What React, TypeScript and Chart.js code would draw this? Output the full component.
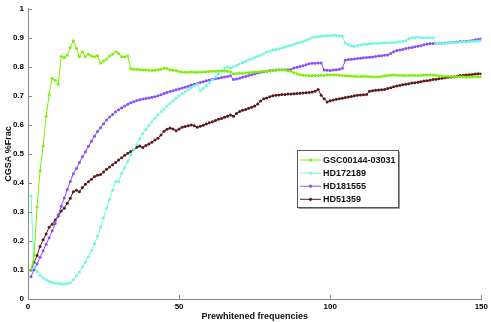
import React, { useEffect, useRef } from "react";
import { Chart, registerables } from "chart.js";

Chart.register(...registerables);

const seriesNames = ["GSC00144-03031", "HD172189", "HD181555", "HD51359"];
const seriesColors = ["#7cf000", "#6ff8dc", "#8850ff", "#5a1a1a"];

const xTicks = [0, 50, 100, 150];
const yTickLabels = ["0", "0.1", "0.2", "0.3", "0.4", "0.5", "0.6", "0.7", "0.8", "0.9", "1"];

const gsc00144 = [
  0.10, 0.15, 0.317, 0.441, 0.527, 0.629, 0.704, 0.761, 0.754, 0.740,
  0.836, 0.832, 0.840, 0.867, 0.890, 0.863, 0.835, 0.852, 0.835, 0.843,
  0.837, 0.835, 0.838, 0.813, 0.820, 0.826, 0.837, 0.843, 0.852, 0.846,
  0.835, 0.835, 0.838, 0.794, 0.792, 0.791, 0.791, 0.789, 0.790, 0.788,
  0.787, 0.788, 0.790, 0.792, 0.795, 0.794, 0.790, 0.788, 0.787, 0.784,
  0.782, 0.781, 0.781, 0.782, 0.781, 0.781, 0.781, 0.782, 0.783, 0.784,
  0.785, 0.785, 0.786, 0.786, 0.786, 0.785, 0.782, 0.776, 0.777, 0.778,
  0.777, 0.779, 0.780, 0.781, 0.782, 0.783, 0.784, 0.785, 0.785, 0.786,
  0.787, 0.788, 0.789, 0.790, 0.789, 0.786, 0.785, 0.780, 0.776, 0.773,
  0.771, 0.770, 0.769, 0.769, 0.770, 0.770, 0.771, 0.770, 0.772, 0.773,
  0.772, 0.773, 0.771, 0.770, 0.769, 0.769, 0.768, 0.768, 0.767, 0.767,
  0.768, 0.767, 0.766, 0.766, 0.765, 0.766, 0.767, 0.769, 0.770, 0.771,
  0.772, 0.771, 0.771, 0.770, 0.770, 0.770, 0.771, 0.770, 0.770, 0.771,
  0.772, 0.772, 0.772, 0.772, 0.771, 0.769, 0.768, 0.768, 0.768, 0.767,
  0.767, 0.766, 0.766, 0.766, 0.765, 0.765, 0.765, 0.766, 0.766, 0.766,
];

const hd172189 = [
  0.355, 0.110, 0.095, 0.082, 0.072, 0.066, 0.061, 0.058, 0.055, 0.053,
  0.052, 0.052, 0.053, 0.056, 0.066, 0.079, 0.093, 0.110, 0.127, 0.146,
  0.167, 0.190, 0.217, 0.248, 0.280, 0.313, 0.343, 0.375, 0.405, 0.405,
  0.433, 0.452, 0.474, 0.497, 0.515, 0.533, 0.552, 0.570, 0.585, 0.598,
  0.611, 0.623, 0.634, 0.645, 0.655, 0.665, 0.674, 0.683, 0.692, 0.700,
  0.707, 0.714, 0.721, 0.728, 0.734, 0.740, 0.718, 0.726, 0.735, 0.745,
  0.755, 0.765, 0.775, 0.786, 0.795, 0.800, 0.796, 0.800, 0.805, 0.810,
  0.815, 0.819, 0.824, 0.828, 0.832, 0.836, 0.840, 0.845, 0.851, 0.855,
  0.858, 0.860, 0.862, 0.865, 0.868, 0.871, 0.874, 0.878, 0.881, 0.884,
  0.887, 0.891, 0.896, 0.901, 0.903, 0.904, 0.905, 0.906, 0.907, 0.907,
  0.909, 0.908, 0.907, 0.906, 0.882, 0.876, 0.872, 0.870, 0.873, 0.876,
  0.878, 0.878, 0.879, 0.880, 0.881, 0.881, 0.882, 0.882, 0.883, 0.883,
  0.884, 0.885, 0.887, 0.888, 0.890, 0.897, 0.900, 0.901, 0.902, 0.901,
  0.900, 0.900, 0.900, 0.900, 0.882, 0.880, 0.880, 0.881, 0.882, 0.883,
  0.884, 0.884, 0.885, 0.886, 0.886, 0.887, 0.888, 0.888, 0.889, 0.890,
];

const hd181555 = [
  0.077, 0.101, 0.121, 0.144, 0.166, 0.189, 0.211, 0.235, 0.260, 0.290,
  0.320, 0.348, 0.377, 0.405, 0.432, 0.450, 0.470, 0.490, 0.507, 0.526,
  0.544, 0.561, 0.577, 0.590, 0.604, 0.617, 0.627, 0.636, 0.645, 0.652,
  0.659, 0.665, 0.671, 0.676, 0.680, 0.684, 0.687, 0.689, 0.691, 0.693,
  0.695, 0.697, 0.700, 0.704, 0.708, 0.712, 0.715, 0.718, 0.721, 0.724,
  0.727, 0.730, 0.733, 0.737, 0.740, 0.743, 0.746, 0.749, 0.752, 0.755,
  0.757, 0.759, 0.761, 0.763, 0.765, 0.767, 0.769, 0.756, 0.758, 0.761,
  0.764, 0.767, 0.770, 0.773, 0.776, 0.779, 0.781, 0.783, 0.785, 0.787,
  0.788, 0.789, 0.790, 0.790, 0.790, 0.790, 0.791, 0.796, 0.799, 0.801,
  0.804, 0.807, 0.811, 0.812, 0.812, 0.813, 0.813, 0.789, 0.788, 0.787,
  0.789, 0.790, 0.792, 0.795, 0.823, 0.825, 0.826, 0.827, 0.829, 0.830,
  0.831, 0.832, 0.833, 0.834, 0.836, 0.837, 0.838, 0.840, 0.841, 0.846,
  0.852, 0.856, 0.858, 0.860, 0.863, 0.865, 0.867, 0.869, 0.871, 0.873,
  0.876, 0.879, 0.880, 0.880, 0.881, 0.881, 0.881, 0.882, 0.883, 0.884,
  0.885, 0.886, 0.887, 0.887, 0.888, 0.889, 0.891, 0.893, 0.895, 0.897,
];

const hd51359 = [
  0.100, 0.126, 0.150, 0.181, 0.204, 0.224, 0.247, 0.258, 0.272, 0.286,
  0.303, 0.313, 0.330, 0.347, 0.370, 0.375, 0.370, 0.384, 0.395, 0.404,
  0.413, 0.422, 0.426, 0.429, 0.438, 0.447, 0.455, 0.463, 0.470, 0.479,
  0.487, 0.495, 0.502, 0.508, 0.515, 0.523, 0.527, 0.522, 0.529, 0.534,
  0.540, 0.548, 0.554, 0.565, 0.578, 0.585, 0.589, 0.586, 0.580, 0.586,
  0.592, 0.594, 0.597, 0.600, 0.597, 0.592, 0.595, 0.599, 0.603, 0.607,
  0.611, 0.615, 0.619, 0.622, 0.626, 0.630, 0.634, 0.630, 0.639, 0.646,
  0.650, 0.653, 0.657, 0.661, 0.665, 0.672, 0.682, 0.690, 0.693, 0.697,
  0.700, 0.702, 0.703, 0.705, 0.705, 0.706, 0.706, 0.707, 0.708, 0.709,
  0.710, 0.711, 0.712, 0.713, 0.716, 0.722, 0.702, 0.690, 0.679, 0.683,
  0.686, 0.688, 0.690, 0.692, 0.694, 0.696, 0.698, 0.700, 0.702, 0.703,
  0.704, 0.705, 0.716, 0.718, 0.719, 0.720, 0.721, 0.722, 0.725, 0.728,
  0.731, 0.734, 0.736, 0.738, 0.740, 0.742, 0.744, 0.745, 0.747, 0.749,
  0.751, 0.752, 0.754, 0.756, 0.757, 0.759, 0.761, 0.762, 0.764, 0.765,
  0.766, 0.768, 0.770, 0.771, 0.772, 0.773, 0.774, 0.775, 0.776, 0.776,
];

const seriesValues = [gsc00144, hd172189, hd181555, hd51359];
const frequencies = gsc00144.map((_, i) => i + 1);

const FONT = "'Liberation Sans', Arial, Helvetica, sans-serif";

const innerTicksPlugin = {
  id: "innerTicks",
  afterDraw(chart: any) {
    const { ctx, chartArea, scales } = chart;
    ctx.save();
    ctx.strokeStyle = "#888888";
    ctx.lineWidth = 1;
    ctx.beginPath();
    scales.x.ticks.forEach((t: any) => {
      const px = Math.round(scales.x.getPixelForValue(t.value)) + 0.5;
      ctx.moveTo(px, chartArea.bottom);
      ctx.lineTo(px, chartArea.bottom - 4);
    });
    scales.y.ticks.forEach((t: any) => {
      const py = Math.round(scales.y.getPixelForValue(t.value)) + 0.5;
      ctx.moveTo(chartArea.left, py);
      ctx.lineTo(chartArea.left + 4, py);
    });
    ctx.stroke();
    ctx.restore();
  },
};

const boxLegendPlugin = {
  id: "boxLegend",
  afterDraw(chart: any) {
    const { ctx } = chart;
    const bx = 297.5, by = 150.5, bw = 101, bh = 57;
    ctx.save();
    ctx.fillStyle = "#ffffff";
    ctx.fillRect(bx, by, bw, bh);
    ctx.strokeStyle = "#9a9a9a";
    ctx.lineWidth = 1;
    ctx.beginPath();
    ctx.moveTo(bx + bw + 1, by + 1);
    ctx.lineTo(bx + bw + 1, by + bh + 1);
    ctx.lineTo(bx + 1, by + bh + 1);
    ctx.stroke();
    ctx.strokeStyle = "#555555";
    ctx.strokeRect(bx, by, bw, bh);
    chart.data.datasets.forEach((ds: any, i: number) => {
      const y = 160 + i * 13.1;
      ctx.strokeStyle = ds.borderColor;
      ctx.lineWidth = 1;
      ctx.beginPath();
      ctx.moveTo(300, y);
      ctx.lineTo(321, y);
      ctx.stroke();
      ctx.fillStyle = ds.borderColor;
      ctx.beginPath();
      ctx.arc(310.5, y, 1.6, 0, Math.PI * 2);
      ctx.fill();
      ctx.fillStyle = "#111111";
      ctx.font = `bold 9px ${FONT}`;
      ctx.textBaseline = "middle";
      ctx.textAlign = "left";
      ctx.fillText(ds.label, 323, y + 0.5);
    });
    ctx.restore();
  },
};

export default function App() {
  const canvasRef = useRef<HTMLCanvasElement | null>(null);

  useEffect(() => {
    document.body.style.margin = "0";
    const canvas = canvasRef.current;
    if (!canvas) return;
    const chart = new Chart(canvas, {
      type: "line",
      data: {
        datasets: seriesNames.map((name, s) => ({
          label: name,
          data: seriesValues[s].map((v, i) => ({ x: frequencies[i], y: v })),
          borderColor: seriesColors[s],
          backgroundColor: seriesColors[s],
          borderWidth: 1,
          pointRadius: 1.5,
          pointBorderWidth: 0,
          pointBackgroundColor: seriesColors[s],
          tension: 0,
          fill: false,
        })),
      },
      options: {
        animation: false,
        responsive: false,
        devicePixelRatio: 1,
        events: [],
        layout: { padding: { top: 5, right: 8, left: 0, bottom: 0 } },
        plugins: {
          legend: { display: false },
          tooltip: { enabled: false },
        },
        scales: {
          x: {
            type: "linear",
            min: 0,
            max: 150,
            afterBuildTicks: (scale: any) => {
              scale.ticks = xTicks.map((v) => ({ value: v }));
            },
            afterFit: (scale: any) => {
              scale.height = 23;
            },
            grid: { display: false, drawTicks: false },
            border: { display: true, color: "#888888", width: 1 },
            ticks: {
              color: "#000000",
              font: { family: FONT, size: 8, weight: "bold" },
              padding: 3,
              maxRotation: 0,
              autoSkip: false,
            },
            title: {
              display: true,
              text: "Prewhitened frequencies",
              color: "#111111",
              font: { family: FONT, size: 9, weight: "bold" },
              padding: { top: 0, bottom: 0 },
            },
          },
          y: {
            type: "linear",
            min: 0,
            max: 1,
            afterBuildTicks: (scale: any) => {
              scale.ticks = yTickLabels.map((_, i) => ({ value: i / 10 }));
            },
            afterFit: (scale: any) => {
              scale.width = 28;
            },
            grid: { display: false, drawTicks: false },
            border: { display: true, color: "#888888", width: 1 },
            ticks: {
              color: "#000000",
              font: { family: FONT, size: 8, weight: "bold" },
              padding: 4,
              autoSkip: false,
              callback: (_v: any, index: number) => yTickLabels[index],
            },
            title: {
              display: true,
              text: "CGSA %Frac",
              color: "#111111",
              font: { family: FONT, size: 9, weight: "bold" },
              padding: { top: 3.6, bottom: 0 },
            },
          },
        },
      },
      plugins: [innerTicksPlugin, boxLegendPlugin],
    } as any);
    return () => chart.destroy();
  }, []);

  return (
    <div style={{ width: 491, height: 322, background: "#ffffff" }}>
      <canvas ref={canvasRef} width={491} height={322} style={{ display: "block" }} />
    </div>
  );
}
